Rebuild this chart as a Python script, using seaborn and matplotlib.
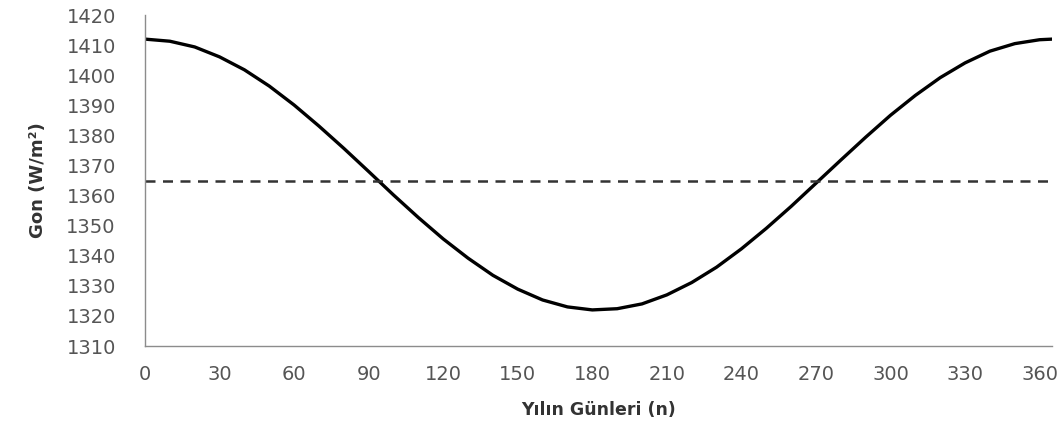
import matplotlib
matplotlib.use("Agg")
import matplotlib.pyplot as plt
import seaborn as sns
import pandas as pd

# Day of year (n) and extraterrestrial radiation Gon (W/m^2)
days = [0, 10, 20, 30, 40, 50, 60, 70, 80, 90, 100, 110, 120, 130, 140, 150, 160,
        170, 180, 190, 200, 210, 220, 230, 240, 250, 260, 270, 280, 290, 300, 310,
        320, 330, 340, 350, 360, 365]
gon = [1412.0, 1411.3, 1409.4, 1406.1, 1401.8, 1396.4, 1390.1, 1383.1, 1375.7,
       1368.0, 1360.2, 1352.7, 1345.6, 1339.2, 1333.5, 1328.9, 1325.3, 1323.0,
       1322.0, 1322.4, 1324.0, 1327.0, 1331.1, 1336.2, 1342.3, 1349.1, 1356.4,
       1364.1, 1371.8, 1379.4, 1386.7, 1393.3, 1399.2, 1404.1, 1408.0, 1410.5,
       1411.8, 1412.0]
solar_constant = 1365.0
x_ticks = list(range(0, 361, 30))
y_ticks = list(range(1310, 1421, 10))

df = pd.DataFrame({"n": days, "Gon": gon})

sns.set_theme(style="white")
plt.rcParams["font.family"] = ["DejaVu Sans"]

fig = plt.figure(figsize=(10.63, 4.30), dpi=100)
ax = fig.add_axes([0.1364, 0.1953, 0.8533, 0.7697])

sns.lineplot(data=df, x="n", y="Gon", ax=ax, color="black", linewidth=2.4)
ax.axhline(solar_constant, color="#333333", linewidth=1.8, linestyle=(0, (4, 3)))

ax.set_xlim(0, 365)
ax.set_ylim(1310, 1420)
ax.set_xticks(x_ticks)
ax.set_yticks(y_ticks)

for side in ["top", "right"]:
    ax.spines[side].set_visible(False)
for side in ["left", "bottom"]:
    ax.spines[side].set_color("#8c8c8c")
    ax.spines[side].set_linewidth(1.0)

ax.tick_params(axis="both", which="both", direction="out", length=5, width=1,
               color="#8c8c8c", labelcolor="#555555", labelsize=14)
ax.tick_params(axis="y", pad=16)
ax.tick_params(axis="x", pad=9)

ax.set_xlabel("Yılın Günleri (n)", fontsize=12.5, fontweight="bold", color="#333333", labelpad=12)
ax.set_ylabel("Gon (W/m²)", fontsize=13, fontweight="bold", color="#333333", labelpad=14)

fig.savefig("out.png", dpi=100, facecolor="white")
